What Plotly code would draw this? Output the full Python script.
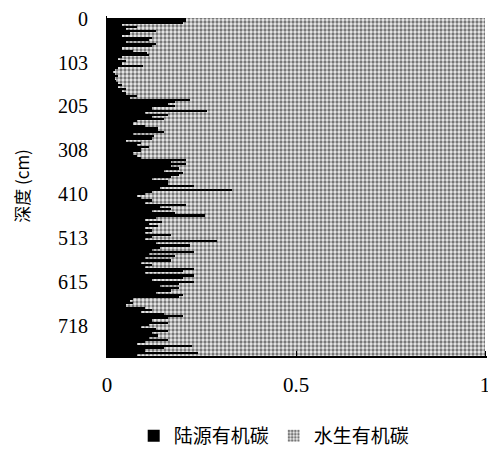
import plotly.graph_objects as go

# depth (cm), sampled every 5 cm
depth = [5 * i for i in range(158)]

# terrestrial organic carbon fraction
terrestrial = [
    0.21, 0.21, 0.20, 0.04, 0.08, 0.05, 0.13, 0.06, 0.04, 0.12,
    0.11, 0.05, 0.13, 0.12, 0.04, 0.07, 0.105, 0.11, 0.04, 0.03,
    0.05, 0.04, 0.095, 0.03, 0.02, 0.015, 0.02, 0.03, 0.02, 0.025,
    0.03, 0.04, 0.03, 0.05, 0.04, 0.05, 0.08, 0.06, 0.22, 0.18,
    0.16, 0.18, 0.12, 0.265, 0.10, 0.16, 0.12, 0.15, 0.08, 0.07,
    0.10, 0.135, 0.135, 0.15, 0.07, 0.125, 0.12, 0.05, 0.09, 0.08,
    0.11, 0.09, 0.09, 0.07, 0.08, 0.09, 0.21, 0.17, 0.21, 0.17,
    0.19, 0.15, 0.20, 0.19, 0.17, 0.12, 0.16, 0.16, 0.23, 0.14,
    0.33, 0.12, 0.10, 0.08, 0.09, 0.12, 0.10, 0.21, 0.14, 0.17,
    0.12, 0.18, 0.26, 0.13, 0.10, 0.145, 0.11, 0.135, 0.10, 0.12,
    0.10, 0.17, 0.12, 0.10, 0.29, 0.13, 0.22, 0.14, 0.12, 0.23,
    0.11, 0.18, 0.10, 0.17, 0.09, 0.12, 0.10, 0.23, 0.20, 0.10,
    0.23, 0.20, 0.12, 0.23, 0.19, 0.14, 0.19, 0.17, 0.13, 0.20,
    0.19, 0.07, 0.06, 0.07, 0.05, 0.10, 0.12, 0.09, 0.15, 0.20,
    0.16, 0.12, 0.16, 0.11, 0.09, 0.13, 0.16, 0.12, 0.135, 0.11,
    0.16, 0.10, 0.08, 0.225, 0.15, 0.10, 0.24, 0.08,
]
aquatic = [round(1 - t, 4) for t in terrestrial]

y_ticks = [0, 103, 205, 308, 410, 513, 615, 718]
x_ticks = [0, 0.5, 1]
x_tick_text = ["0", "0.5", "1"]

serif = "Liberation Serif"
cjk = "Noto Sans CJK SC"

fig = go.Figure()
fig.add_trace(go.Bar(
    y=depth, x=terrestrial, orientation="h", name="陆源有机碳",
    width=5, marker=dict(color="black", line=dict(width=0)),
))
fig.add_trace(go.Bar(
    y=depth, x=aquatic, orientation="h", name="水生有机碳",
    width=5,
    marker=dict(color="white", line=dict(width=0),
                pattern=dict(shape=".", fgcolor="#000000", bgcolor="#eeeeee",
                             size=4, solidity=0.52)),
))

# page body has an 8px margin, so the figure is 8px smaller each way
fig.update_layout(
    barmode="stack",
    bargap=0,
    width=488, height=443,
    margin=dict(l=99, r=9, t=8, b=95, autoexpand=False),
    paper_bgcolor="white", plot_bgcolor="white",
    showlegend=True,
    legend=dict(orientation="h", x=0.44, xanchor="center", y=-0.235, yanchor="middle",
                font=dict(family=cjk, size=19, color="black"),
                itemwidth=30, traceorder="normal"),
    font=dict(family=serif, color="black"),
)
fig.update_xaxes(
    range=[0, 1.005], tickvals=x_ticks, ticktext=x_tick_text,
    tickfont=dict(family=serif, size=21, color="black"),
    showline=True, linecolor="black", linewidth=1.5,
    ticks="inside", ticklen=5, tickcolor="black",
    showgrid=False, zeroline=False, ticklabelstandoff=9, automargin=False,
    ticklabeloverflow="allow",
)
fig.update_yaxes(
    range=[788, -6], tickvals=y_ticks,
    tickfont=dict(family=serif, size=20, color="black"),
    title=dict(text="深度 (cm)", font=dict(family=cjk, size=17, color="black"), standoff=24),
    showline=True, linecolor="black", linewidth=1,
    ticks="", showgrid=False, zeroline=False, ticklabelstandoff=14, automargin=False,
    ticklabeloverflow="allow",
)

fig.write_html("out.html")
